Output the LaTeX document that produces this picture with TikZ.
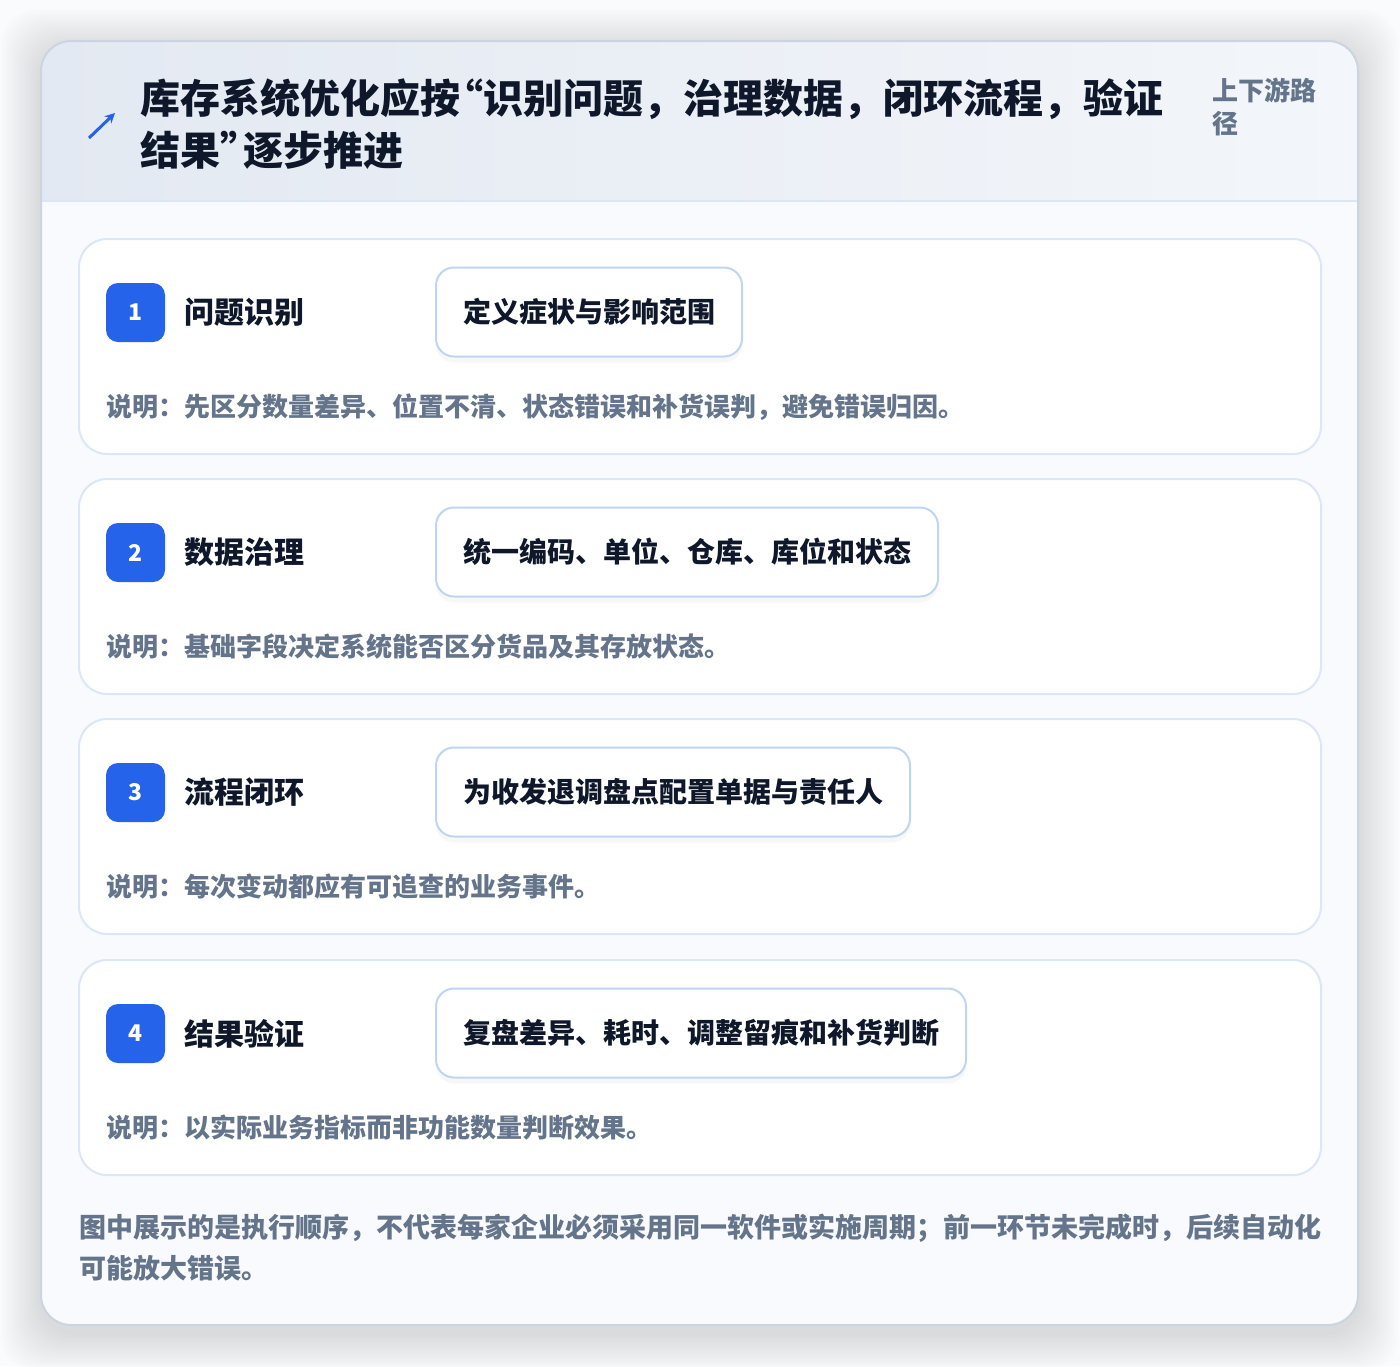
\documentclass[tikz,border=0pt]{standalone}
\usepackage{fontspec}
\setmainfont{Noto Sans CJK SC}
\usetikzlibrary{positioning, arrows.meta, shadows}

\definecolor{pagebg}{HTML}{FAFBFC}
\definecolor{cardline}{HTML}{CBD5E1}
\definecolor{headA}{HTML}{E3E9F2}
\definecolor{headB}{HTML}{F3F6FA}
\definecolor{headline}{HTML}{DCE6F2}
\definecolor{bodybg}{HTML}{F8FAFD}
\definecolor{stepline}{HTML}{DBE7F6}
\definecolor{boxline}{HTML}{BFD6F2}
\definecolor{badgeblue}{HTML}{2563EB}
\definecolor{inkdark}{HTML}{0F172A}
\definecolor{inkgray}{HTML}{64748B}

% narrow quotes as in the title
\newcommand{\openq}{\makebox[11.5pt][r]{“}}
\newcommand{\closeq}{\makebox[11.5pt][l]{”}}

\tikzset{
  stepcard/.style={draw=stepline, line width=1pt, fill=white, rounded corners=14pt},
  badge/.style={fill=badgeblue, rounded corners=6pt, minimum size=29.5pt, inner sep=0pt,
    text=white, font=\bfseries\fontsize{11.5}{13}\selectfont},
  steptitle/.style={font=\bfseries\fontsize{15}{18}\selectfont, text=inkdark, inner sep=0pt, anchor=west},
  actionbox/.style={draw=boxline, line width=1pt, fill=white, rounded corners=9pt,
    minimum height=44.5pt, inner xsep=13.5pt, inner ysep=0pt, anchor=west,
    font=\bfseries\fontsize{14}{17}\selectfont, text=inkdark,
    drop shadow={shadow xshift=0pt, shadow yshift=-3pt, opacity=0.03, fill=black}},
  note/.style={font=\bfseries\fontsize{13}{16}\selectfont, text=inkgray, inner sep=0pt, anchor=west}
}

\begin{document}
\begin{tikzpicture}[x=0.5pt, y=-0.5pt]
\useasboundingbox (0,0) rectangle (1400,1366);
\fill[pagebg] (0,0) rectangle (1400,1366);
% soft shadow of the card
\foreach \s in {1,...,16}
  \fill[black, opacity=0.007, rounded corners=18pt]
    (41-\s*2.5, 41-\s*2.5+8) rectangle (1358+\s*2.5, 1325+\s*2.5+8);
% card with header band
\begin{scope}
  \path[clip, rounded corners=15pt] (41,41) rectangle (1358,1325);
  \shade[left color=headA, right color=headB] (41,41) rectangle (1358,201);
  \fill[bodybg] (41,201) rectangle (1358,1325);
  \draw[headline, line width=1pt] (41,201) -- (1358,201);
\end{scope}
\draw[cardline, line width=1pt, rounded corners=15pt] (41,41) rectangle (1358,1325);

% header
\coordinate (icA) at (89,138);
\coordinate (icB) at (115,113);
\draw[badgeblue, line width=1.5pt, -{Stealth[length=5pt, width=5pt]}] (icA) -- (icB);
\node[font=\bfseries\fontsize{20}{26}\selectfont, text=inkdark, align=left, anchor=west, inner sep=0pt]
  (title) at (140,124) {库存系统优化应按\openq 识别问题，治理数据，闭环流程，验证\\结果\closeq 逐步推进};
\node[note, align=left, font=\bfseries\fontsize{13}{16.5}\selectfont] (side) at (1212,107) {上下游路\\径};

% steps
\foreach \n/\top/\name/\act/\desc in {
  1/239/问题识别/定义症状与影响范围/说明：先区分数量差异、位置不清、状态错误和补货误判，避免错误归因。,
  2/479/数据治理/统一编码、单位、仓库、库位和状态/说明：基础字段决定系统能否区分货品及其存放状态。,
  3/719/流程闭环/为收发退调盘点配置单据与责任人/说明：每次变动都应有可追查的业务事件。,
  4/960/结果验证/复盘差异、耗时、调整留痕和补货判断/说明：以实际业务指标而非功能数量判断效果。}{
  \draw[stepcard] (79,\top) rectangle (1321,\top+215);
  \node[badge] (b\n) at (135.5,\top+73.5) {\n};
  \node[steptitle, right=9.5pt of b\n] (t\n) {\name};
  \node[actionbox] (k\n) at (435,\top+73) {\act};
  \node[note] (d\n) at (106,\top+168) {\desc};
}

% footer
\node[note, align=left, font=\bfseries\fontsize{13.5}{20.5}\selectfont] (foot) at (79,1248)
  {图中展示的是执行顺序，不代表每家企业必须采用同一软件或实施周期；前一环节未完成时，后续自动化\\可能放大错误。};
\end{tikzpicture}
\end{document}
